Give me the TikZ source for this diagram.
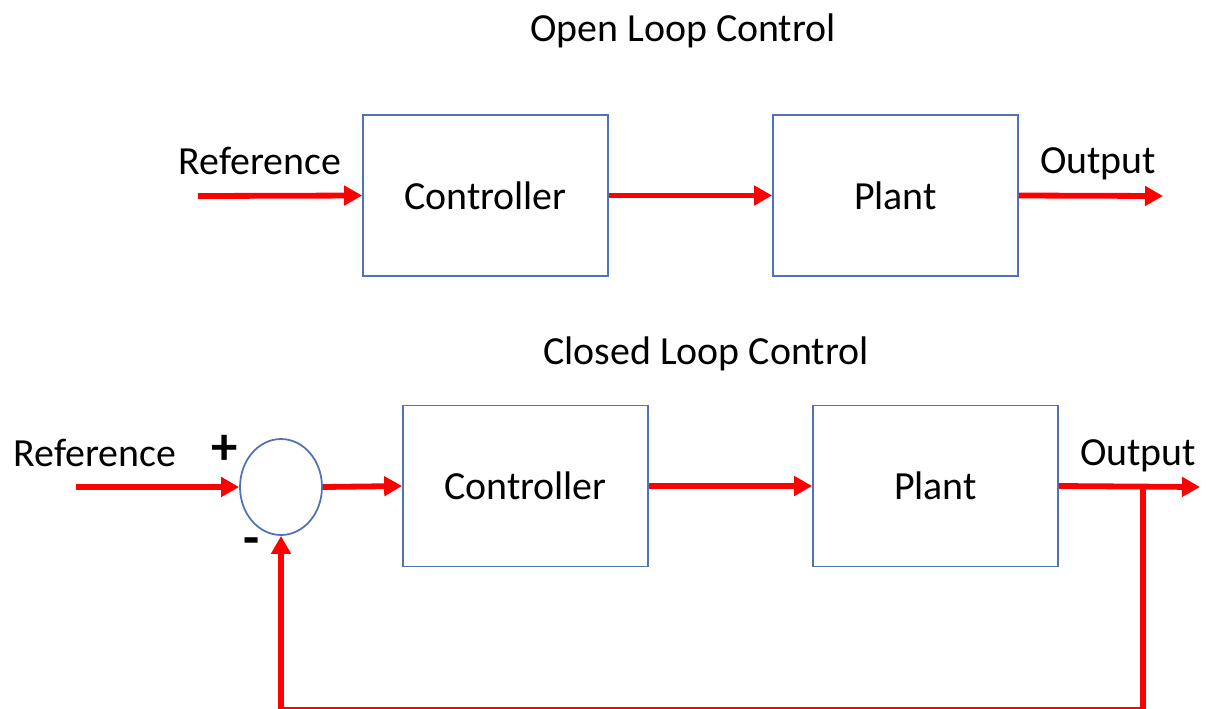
\documentclass[tikz,border=0pt]{standalone}
\usepackage{fontspec}
\setmainfont{Carlito}
\usetikzlibrary{arrows.meta,shapes.geometric}
\definecolor{boxblue}{HTML}{4F73B4}
\begin{document}
\begin{tikzpicture}[x=0.02cm,y=-0.02cm,
  every node/.style={font=\fontsize{22.7}{26}\selectfont},
  blockbox/.style={draw=boxblue,line width=1pt,minimum width=4.9cm,minimum height=3.22cm,inner sep=0pt},
  sumnode/.style={draw=boxblue,line width=1pt,ellipse,minimum width=1.64cm,minimum height=1.92cm,inner sep=0pt},
  sig/.style={draw=red,line width=3.3pt},
  sigarrow/.style={sig,-{Triangle[length=0.36cm,width=0.38cm]}},
  lbl/.style={inner sep=0pt},
  signlbl/.style={inner sep=0pt,font=\fontsize{30}{34}\selectfont\bfseries}
]
\useasboundingbox (0,0) rectangle (1207,708);
\clip (0,0) rectangle (1207,708);
% Open loop
\node[lbl] (t1) at (683,31) {Open Loop Control};
\node[blockbox] (c1) at (485.5,195.5) {Controller};
\node[blockbox] (p1) at (895.5,195.5) {Plant};
\coordinate (in1) at (198,196);
\coordinate (out1) at (1163,196);
\node[lbl] (r1) at (260,161) {Reference};
\node[lbl] (o1) at (1098,164) {Output};
\draw[sigarrow] (in1) -- (c1.west);
\draw[sigarrow] (c1.east) -- (p1.west);
\draw[sigarrow] (p1.east) -- (out1);
% Closed loop
\node[lbl] (t2) at (706,354) {Closed Loop Control};
\node[sumnode] (s) at (281,487) {};
\node[blockbox] (c2) at (525.5,486) {Controller};
\node[blockbox] (p2) at (935.5,486) {Plant};
\coordinate (in2) at (76,487);
\coordinate (out2) at (1200,487);
\coordinate (j) at (1143,487);
\coordinate (fb) at (1143,710);
\node[lbl] (r2) at (95,453) {Reference};
\node[lbl] (o2) at (1138,456) {Output};
\node[signlbl] (plus) at (225,450) {+};
\node[signlbl] (minus) at (252,547) {-};
\draw[sigarrow] (in2) -- (s.west);
\draw[sigarrow] (s.east) -- (c2.west);
\draw[sigarrow] (c2.east) -- (p2.west);
\draw[sigarrow] (p2.east) -- (out2);
\draw[sig] (j) -- (fb);
\draw[sigarrow] (fb) -| (s.south);
\end{tikzpicture}
\end{document}
